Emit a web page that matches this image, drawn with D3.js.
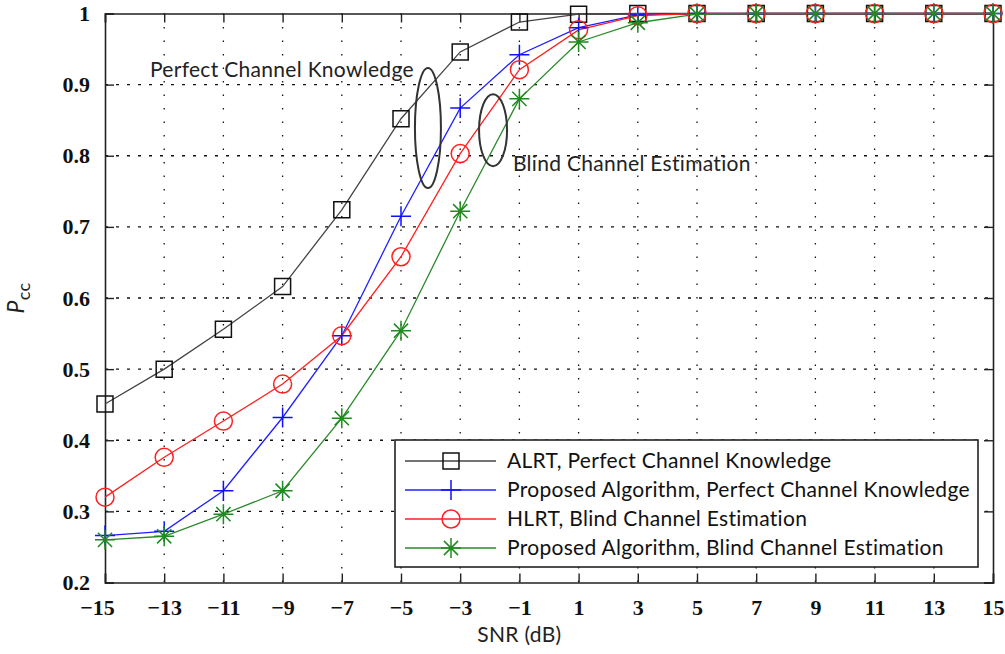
<!DOCTYPE html>
<html>
<head>
<meta charset="utf-8">
<script src="https://d3js.org/d3.v7.min.js"></script>
<style>
  body { margin: 0; background: #fff; }
  .tick text { font-family: "Liberation Serif", serif; font-weight: bold; font-size: 22px; fill: #111; }
  .lbl { font-family: Lato, sans-serif; font-size: 21px; letter-spacing: 0.3px; fill: #222; }
</style>
</head>
<body>
<script>
// SNR values (dB) and the four Pcc curves
const snr = [-15, -13, -11, -9, -7, -5, -3, -1, 1, 3, 5, 7, 9, 11, 13, 15];
const alrtPerfect = [0.451, 0.500, 0.556, 0.616, 0.724, 0.852, 0.946, 0.988, 0.999, 1.0, 1.0, 1.0, 1.0, 1.0, 1.0, 1.0];
const propPerfect = [0.266, 0.272, 0.329, 0.432, 0.547, 0.715, 0.867, 0.942, 0.980, 0.998, 1.0, 1.0, 1.0, 1.0, 1.0, 1.0];
const hlrtBlind   = [0.320, 0.376, 0.427, 0.479, 0.547, 0.658, 0.803, 0.921, 0.977, 0.997, 1.0, 1.0, 1.0, 1.0, 1.0, 1.0];
const propBlind   = [0.260, 0.265, 0.296, 0.329, 0.431, 0.554, 0.722, 0.880, 0.960, 0.987, 0.999, 1.0, 1.0, 1.0, 1.0, 1.0];

const seriesNames = ["ALRT, Perfect Channel Knowledge", "Proposed Algorithm, Perfect Channel Knowledge",
                     "HLRT, Blind Channel Estimation", "Proposed Algorithm, Blind Channel Estimation"];
const xTicks = [-15, -13, -11, -9, -7, -5, -3, -1, 1, 3, 5, 7, 9, 11, 13, 15];
const yTicks = [0.2, 0.3, 0.4, 0.5, 0.6, 0.7, 0.8, 0.9, 1];

const width = 1005, height = 654;
const margin = {top: 13.5, right: 12, bottom: 71.5, left: 105};
const chartWidth = width - margin.left - margin.right;
const chartHeight = height - margin.top - margin.bottom;

const svg = d3.select("body").append("svg").attr("width", width).attr("height", height)
  .style("background", "#fff");
const chart = svg.append("g").attr("transform", "translate(" + margin.left + "," + margin.top + ")");

const x = d3.scaleLinear().domain([-15, 15]).range([0, chartWidth]);
const y = d3.scaleLinear().domain([0.2, 1]).range([chartHeight, 0]);

// dotted grid
chart.append("g").selectAll("line").data(xTicks.slice(1, -1)).join("line")
  .attr("x1", d => x(d)).attr("x2", d => x(d)).attr("y1", 0).attr("y2", chartHeight)
  .attr("stroke", "#111").attr("stroke-width", 1.3).attr("stroke-dasharray", "1.5,12");
chart.append("g").selectAll("line").data(yTicks.slice(1, -1)).join("line")
  .attr("x1", 0).attr("x2", chartWidth).attr("y1", d => y(d)).attr("y2", d => y(d))
  .attr("stroke", "#111").attr("stroke-width", 1.3).attr("stroke-dasharray", "3,8");

// axes with inward ticks on all four sides
const fmtY = d => d === 1 ? "1" : d3.format(".1f")(d);
const bottomAxis = chart.append("g").attr("transform", "translate(0," + chartHeight + ")")
  .call(d3.axisBottom(x).tickValues(xTicks).tickSize(-9).tickPadding(17).tickFormat(d3.format("d")));
const leftAxis = chart.append("g")
  .call(d3.axisLeft(y).tickValues(yTicks).tickSize(-9).tickPadding(15).tickFormat(fmtY));
chart.append("g").call(d3.axisTop(x).tickValues(xTicks).tickSize(-9).tickFormat(""));
chart.append("g").attr("transform", "translate(" + chartWidth + ",0)")
  .call(d3.axisRight(y).tickValues(yTicks).tickSize(-9).tickFormat(""));
chart.selectAll(".domain").attr("stroke", "#222").attr("stroke-width", 1.6);
chart.selectAll(".tick line").attr("stroke", "#222").attr("stroke-width", 1.4);
bottomAxis.selectAll(".tick text").attr("dy", "0.71em")
  .attr("dx", d => d === -15 ? -8 : 0);

// markers (matlab style)
const squareSym = {draw(c, s) { const r = 8; c.rect(-r, -r, 2 * r, 2 * r); }};
const plusSym = {draw(c, s) { const r = 10; c.moveTo(-r, 0); c.lineTo(r, 0); c.moveTo(0, -r); c.lineTo(0, r); }};
const circleSym = {draw(c, s) { const r = 9; c.moveTo(r, 0); c.arc(0, 0, r, 0, 2 * Math.PI); }};
const starSym = {draw(c, s) {
  const r = 10, q = 7.1;
  c.moveTo(-r, 0); c.lineTo(r, 0); c.moveTo(0, -r); c.lineTo(0, r);
  c.moveTo(-q, -q); c.lineTo(q, q); c.moveTo(-q, q); c.lineTo(q, -q);
}};

const series = [
  {name: seriesNames[0], values: alrtPerfect, color: "#111", line: "#444", sym: squareSym},
  {name: seriesNames[1], values: propPerfect, color: "#1010ff", line: "#2020ff", sym: plusSym},
  {name: seriesNames[2], values: hlrtBlind, color: "#ff2020", line: "#ff2020", sym: circleSym},
  {name: seriesNames[3], values: propBlind, color: "#1f8a1f", line: "#2a8a2a", sym: starSym}
];

const lineGen = d3.line().x((d, i) => x(snr[i])).y(d => y(d));
series.forEach(s => {
  chart.append("path").datum(s.values)
    .attr("fill", "none").attr("stroke", s.line).attr("stroke-width", 1.3).attr("d", lineGen);
});
series.forEach(s => {
  chart.append("g").selectAll("path").data(s.values).join("path")
    .attr("transform", (d, i) => "translate(" + x(snr[i]) + "," + y(d) + ")")
    .attr("d", d3.symbol().type(s.sym))
    .attr("fill", "none").attr("stroke", s.color).attr("stroke-width", 1.5);
});

// annotations
chart.append("text").attr("class", "lbl").attr("x", x(-13.48)).attr("y", y(0.911)).text("Perfect Channel Knowledge");
chart.append("text").attr("class", "lbl").attr("x", x(-1.22)).attr("y", y(0.779)).text("Blind Channel Estimation");
chart.append("ellipse").attr("cx", x(-4.09)).attr("cy", y(0.839)).attr("rx", 13).attr("ry", 60)
  .attr("fill", "none").attr("stroke", "#333").attr("stroke-width", 2);
chart.append("ellipse").attr("cx", x(-1.89)).attr("cy", y(0.836)).attr("rx", 14).attr("ry", 36)
  .attr("fill", "none").attr("stroke", "#333").attr("stroke-width", 2);

// legend
const legend = svg.append("g").attr("transform", "translate(395,440)");
legend.append("rect").attr("width", 583).attr("height", 127)
  .attr("fill", "#fff").attr("stroke", "#222").attr("stroke-width", 1.6);
const rows = legend.selectAll("g").data(series).join("g")
  .attr("transform", (d, i) => "translate(0," + (21 + i * 29) + ")");
rows.append("line").attr("x1", 10).attr("x2", 101)
  .attr("stroke", d => d.line).attr("stroke-width", 1.5);
rows.append("path").attr("transform", "translate(56,0)")
  .attr("d", d => d3.symbol().type(d.sym)())
  .attr("fill", "none").attr("stroke", d => d.color).attr("stroke-width", 1.5);
rows.append("text").attr("class", "lbl").attr("x", 112).attr("dy", "0.35em")
  .style("fill", "#111").text(d => d.name);

// axis labels
svg.append("text").attr("class", "lbl").attr("x", margin.left + x(-1)).attr("y", 642)
  .attr("text-anchor", "middle").text("SNR (dB)");
const yl = svg.append("text").attr("class", "lbl")
  .attr("transform", "translate(24," + (margin.top + y(0.6)) + ") rotate(-90)")
  .attr("text-anchor", "middle");
yl.append("tspan").style("font-style", "italic").style("font-size", "23px").text("P");
yl.append("tspan").attr("dy", 6).style("font-size", "18px").text("cc");
</script>
</body>
</html>
